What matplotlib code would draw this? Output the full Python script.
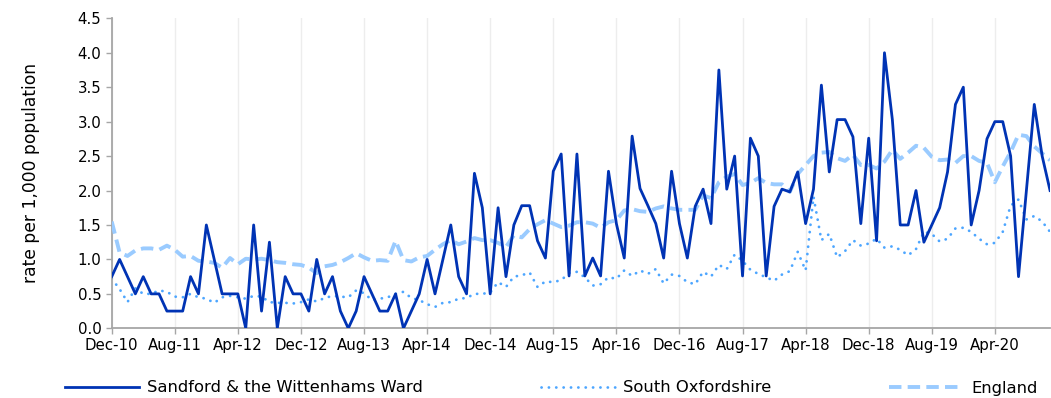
import matplotlib
matplotlib.use('Agg')
import matplotlib.pyplot as plt
import numpy as np
from matplotlib.ticker import FormatStrFormatter

# ------------------------------------------------------------
# Monthly rate per 1,000 population, Dec-10 .. Nov-20
# ------------------------------------------------------------
sandford = [
    0.75, 1.0, 0.75, 0.5, 0.75, 0.5, 0.5, 0.25, 0.25, 0.25,
    0.75, 0.5, 1.5, 1.0, 0.5, 0.5, 0.5, 0.0, 1.5, 0.25,
    1.25, 0.0, 0.75, 0.5, 0.5, 0.25, 1.0, 0.5, 0.75, 0.25,
    0.0, 0.25, 0.75, 0.5, 0.25, 0.25, 0.5, 0.0, 0.25, 0.5,
    1.0, 0.5, 1.0, 1.5, 0.75, 0.5, 2.25, 1.75, 0.5, 1.75,
    0.75, 1.5, 1.78, 1.78, 1.27, 1.02, 2.28, 2.53, 0.76, 2.53,
    0.76, 1.02, 0.76, 2.28, 1.52, 1.02, 2.79, 2.03, 1.78, 1.52,
    1.02, 2.28, 1.52, 1.02, 1.77, 2.02, 1.52, 3.75, 2.02, 2.5,
    0.76, 2.76, 2.5, 0.76, 1.77, 2.02, 1.98, 2.27, 1.52, 2.02,
    3.53, 2.27, 3.03, 3.03, 2.78, 1.52, 2.76, 1.27, 4.0, 3.03,
    1.5, 1.5, 2.0, 1.25, 1.5, 1.75, 2.27, 3.25, 3.5, 1.5,
    2.0, 2.75, 3.0, 3.0, 2.5, 0.75, 2.0, 3.25, 2.5, 2.0,
]

south_oxon = [
    0.72, 0.57, 0.38, 0.58, 0.5, 0.5, 0.55, 0.53, 0.46, 0.45,
    0.5, 0.45, 0.43, 0.37, 0.45, 0.47, 0.45, 0.43, 0.47, 0.46,
    0.38, 0.37, 0.37, 0.36, 0.38, 0.42, 0.39, 0.44, 0.47, 0.46,
    0.45, 0.55, 0.51, 0.41, 0.43, 0.45, 0.5, 0.53, 0.44, 0.41,
    0.35, 0.31, 0.37, 0.38, 0.43, 0.44, 0.5, 0.5, 0.52, 0.67,
    0.6, 0.75, 0.77, 0.81, 0.6, 0.68, 0.67, 0.7, 0.8, 0.82,
    0.74, 0.62, 0.64, 0.74, 0.72, 0.84, 0.76, 0.84, 0.79, 0.86,
    0.65, 0.78, 0.76, 0.67, 0.64, 0.82, 0.75, 0.92, 0.86, 1.07,
    0.98, 0.85, 0.79, 0.74, 0.69, 0.78, 0.83, 1.11, 0.84, 1.91,
    1.28, 1.37, 1.03, 1.12, 1.28, 1.2, 1.23, 1.3, 1.17, 1.19,
    1.14, 1.06, 1.15, 1.4, 1.37, 1.26, 1.3, 1.45, 1.46, 1.4,
    1.3, 1.22, 1.24, 1.4, 1.78, 1.87, 1.58, 1.63, 1.55, 1.4,
]

england = [
    1.55, 1.1, 1.05, 1.13, 1.16, 1.16, 1.14, 1.2, 1.14, 1.04,
    1.05, 0.98, 0.97, 0.95, 0.88, 1.02, 0.93, 1.01, 1.0, 1.01,
    0.99, 0.96, 0.95, 0.93, 0.92, 0.88, 0.8, 0.9, 0.92, 0.96,
    1.02, 1.09, 1.03, 0.98, 0.99, 0.98, 1.27, 0.99, 0.97, 1.03,
    1.05, 1.14, 1.22, 1.28, 1.22, 1.26, 1.31, 1.28, 1.28, 1.24,
    1.18, 1.35, 1.32, 1.44, 1.51, 1.57, 1.52, 1.47, 1.49, 1.54,
    1.54, 1.52, 1.46, 1.54, 1.57, 1.71, 1.73, 1.7, 1.69, 1.74,
    1.77, 1.74, 1.72, 1.72, 1.72, 1.93, 1.89, 2.12, 2.2, 2.24,
    2.08, 2.11, 2.18, 2.11, 2.09, 2.09, 1.98, 2.24, 2.37, 2.5,
    2.55, 2.56, 2.47, 2.43, 2.52, 2.37, 2.37, 2.32, 2.42, 2.59,
    2.46, 2.55, 2.65, 2.62, 2.49, 2.44, 2.45, 2.4, 2.5, 2.5,
    2.43, 2.4, 2.12, 2.35, 2.56, 2.81, 2.79, 2.64, 2.54, 2.44,
]

tick_labels = ['Dec-10', 'Aug-11', 'Apr-12', 'Dec-12', 'Aug-13', 'Apr-14',
               'Dec-14', 'Aug-15', 'Apr-16', 'Dec-16', 'Aug-17', 'Apr-18',
               'Dec-18', 'Aug-19', 'Apr-20']
series_names = ['Sandford & the Wittenhams Ward', 'South Oxfordshire', 'England']

months = np.arange(len(sandford))
tick_pos = np.arange(0, len(months), 8)[:len(tick_labels)]

# ------------------------------------------------------------
# Figure
# ------------------------------------------------------------
fig = plt.figure(figsize=(10.51, 3.98), dpi=100)
ax = fig.add_axes([0.1063, 0.1751, 0.8928, 0.7789])

l_so, = ax.plot(months, south_oxon, color='#4DA6FF', lw=2.0,
                linestyle=(0, (0.05, 2.6)), dash_capstyle='round',
                solid_capstyle='round', zorder=2)
l_en, = ax.plot(months, england, color='#9ACBFF', lw=2.8,
                linestyle=(0, (3.2, 1.6)), zorder=3)
l_sw, = ax.plot(months, sandford, color='#0033B4', lw=2.0, zorder=4)

ax.set_xlim(0, len(months) - 1)
ax.set_ylim(0, 4.5)
ax.set_yticks(np.arange(0, 4.51, 0.5))
ax.yaxis.set_major_formatter(FormatStrFormatter('%.1f'))
ax.set_xticks(tick_pos)
ax.set_xticklabels(tick_labels)

ax.grid(axis='x', color='#EDEDED', lw=1.0)
ax.set_axisbelow(True)
for s in ['top', 'right']:
    ax.spines[s].set_visible(False)
for s in ['left', 'bottom']:
    ax.spines[s].set_color('#A6A6A6')
    ax.spines[s].set_linewidth(1.3)
ax.tick_params(axis='both', colors='#A6A6A6', length=4, width=1.0,
               labelcolor='black', labelsize=10.8)
ax.tick_params(axis='x', pad=3)

ax.set_ylabel('rate per 1,000 population', fontsize=12.3)
ax.yaxis.set_label_coords(-0.0764, 0.5)

fig.legend([l_sw, l_so, l_en], series_names, loc='center left',
           bbox_to_anchor=(65 / 1051, 1 - 388 / 398), ncol=3, frameon=False,
           fontsize=11.8, handlelength=4.5, handletextpad=0.5,
           columnspacing=7.2, borderpad=0, borderaxespad=0)

fig.savefig('out.png', dpi=100)
